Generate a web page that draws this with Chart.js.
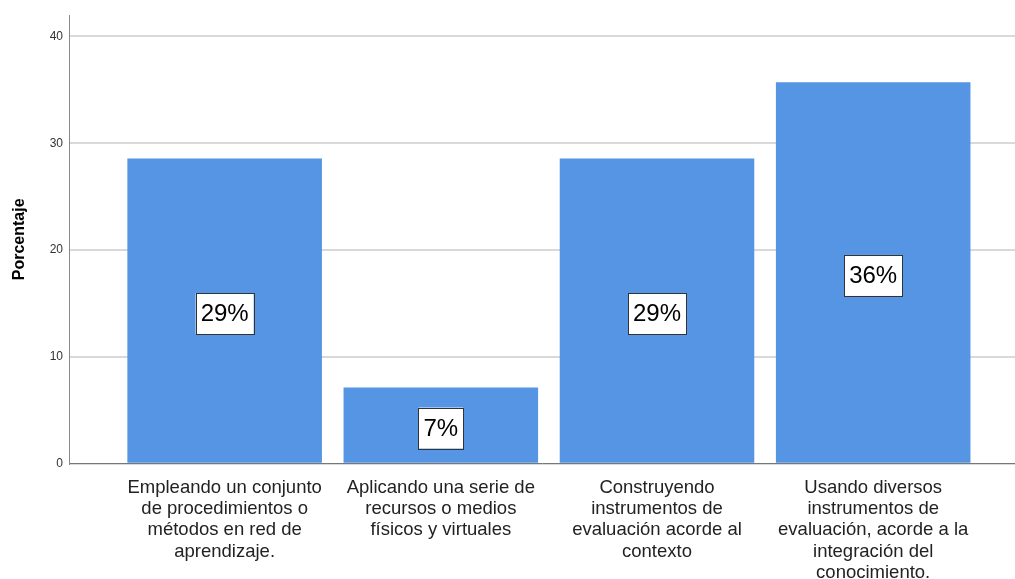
<!DOCTYPE html>
<html lang="es">
<head>
    <meta charset="UTF-8">
    <title>Porcentaje</title>
    <script src="https://cdn.jsdelivr.net/npm/chart.js"></script>
    <style>
        body { margin: 0; background: #fff; }
        #wrap { width: 1015px; height: 579px; }
    </style>
</head>
<body>
    <div id="wrap"><canvas id="chart"></canvas></div>

    <script>
        // categories (label lines) and percentages
        const categories = [
            ["Empleando un conjunto", "de procedimientos o", "métodos en red de", "aprendizaje."],
            ["Aplicando una serie de", "recursos o medios", "físicos y virtuales"],
            ["Construyendo", "instrumentos de", "evaluación acorde al", "contexto"],
            ["Usando diversos", "instrumentos de", "evaluación, acorde a la", "integración del", "conocimiento."]
        ];
        const percentages = [28.57, 7.14, 28.57, 35.71];
        const yTicks = [0, 10, 20, 30, 40];

        const points = percentages.map((v, i) => ({ x: i, y: v }));

        // white boxed percent label in the middle of each bar
        const boxLabels = {
            id: "boxLabels",
            afterDatasetsDraw(chart) {
                const ctx = chart.ctx;
                const meta = chart.getDatasetMeta(0);
                ctx.save();
                ctx.font = "24px 'Liberation Sans', Arial, sans-serif";
                ctx.textAlign = "center";
                ctx.textBaseline = "middle";
                meta.data.forEach((bar, i) => {
                    const txt = Math.round(percentages[i]) + "%";
                    const w = ctx.measureText(txt).width + 10;
                    const h = 41;
                    const cy = (bar.y + bar.base) / 2 + 3;
                    ctx.fillStyle = "#fff";
                    ctx.fillRect(bar.x - w / 2, cy - h / 2, w, h);
                    ctx.strokeStyle = "#333";
                    ctx.lineWidth = 1;
                    ctx.strokeRect(Math.round(bar.x - w / 2) + 0.5, Math.round(cy - h / 2) + 0.5, Math.round(w), h);
                    ctx.fillStyle = "#000";
                    ctx.fillText(txt, bar.x, cy + 1);
                });
                ctx.restore();
            }
        };

        new Chart(document.getElementById("chart"), {
            type: "bar",
            data: {
                datasets: [{
                    data: points,
                    backgroundColor: "#5595e3",
                    borderWidth: 0,
                    barPercentage: 0.9,
                    categoryPercentage: 1
                }]
            },
            options: {
                responsive: true,
                maintainAspectRatio: false,
                animation: false,
                layout: { padding: { top: 15, right: 0, bottom: -10, left: 0 } },
                plugins: {
                    legend: { display: false },
                    tooltip: { enabled: false }
                },
                scales: {
                    x: {
                        type: "linear",
                        offset: false,
                        min: -0.72,
                        max: 3.656,
                        afterBuildTicks: s => { s.ticks = categories.map((c, i) => ({ value: i })); },
                        ticks: {
                            autoSkip: false,
                            maxRotation: 0,
                            padding: 5,
                            color: "#222",
                            font: { family: "'Liberation Sans', Arial, sans-serif", size: 18.5, lineHeight: 1.16 },
                            callback: v => categories[v]
                        },
                        grid: { display: false, offset: false },
                        border: { display: true, color: "#777", width: 1 }
                    },
                    y: {
                        min: 0,
                        max: 42,
                        afterBuildTicks: s => { s.ticks = yTicks.map(v => ({ value: v })); },
                        afterFit: s => { s.width = 69; },
                        ticks: {
                            padding: 6,
                            color: "#333",
                            font: { family: "'Liberation Sans', Arial, sans-serif", size: 12 }
                        },
                        grid: { color: "#d9d9d9", lineWidth: 2, tickLength: 0 },
                        border: { display: true, color: "#888", width: 1 },
                        title: {
                            display: true,
                            text: "Porcentaje",
                            color: "#000",
                            font: { family: "'Liberation Sans', Arial, sans-serif", size: 16, weight: "bold" },
                            padding: { top: 10, bottom: 0 }
                        }
                    }
                }
            },
            plugins: [boxLabels]
        });
    </script>
</body>
</html>
